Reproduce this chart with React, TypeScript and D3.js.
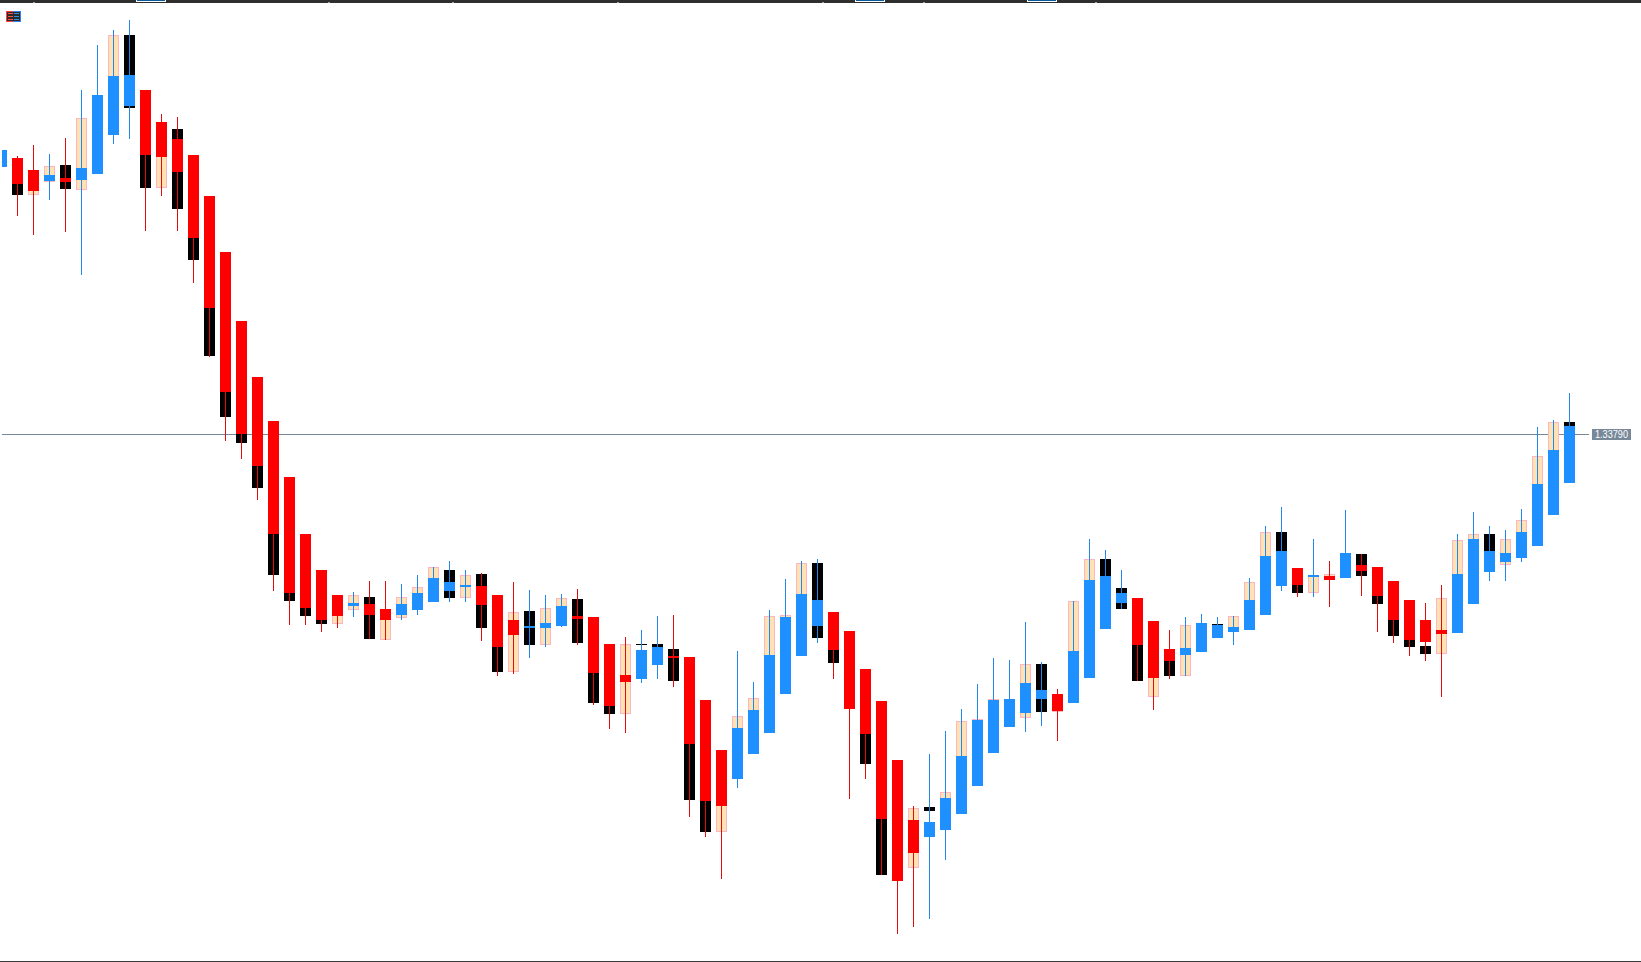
import React from "react";
import { scaleLinear, format } from "d3";

// prices are kept in points, 1 point = 0.00001
const opens = [
  135125, 135170, 135110, 135055, 135070, 135060, 135090, 135285, 135430, 135510,
  135350, 135265, 135185, 134980, 134700, 134355, 134075, 133855, 133575, 133290,
  133110, 132985, 132930, 132940, 132915, 132885, 132910, 132950, 133005, 133025,
  133030, 132985, 132860, 132820, 132820, 132830, 132880, 132875, 132740, 132585,
  132565, 132635, 132680, 132675, 132460, 132210, 132065, 132190, 132295, 132490,
  132680, 132830, 132900, 132805, 132615, 132455, 132160, 131860, 131775, 131810,
  131890, 132030, 132195, 132325, 132395, 132465, 132490, 132445, 132570, 132815,
  132945, 132970, 132855, 132715, 132685, 132700, 132770, 132800, 132810, 132885,
  133030, 133120, 133075, 133080, 133070, 133135, 133125, 133055, 132960, 132860,
  132810, 132795, 132940, 133100, 133150, 133170, 133230, 133385, 133545,
];
const closes = [
  135210, 135040, 135005, 135085, 135050, 135120, 135485, 135580, 135585, 135185,
  135175, 135100, 134770, 134420, 134000, 133790, 133630, 133290, 132995, 132920,
  132860, 132880, 132945, 132885, 132860, 132940, 132995, 133070, 133050, 133035,
  132935, 132725, 132785, 132830, 132845, 132930, 132865, 132595, 132430, 132550,
  132710, 132725, 132670, 132240, 131955, 131930, 132320, 132410, 132685, 132875,
  132990, 132960, 132710, 132415, 132290, 131865, 131555, 131695, 131850, 131970,
  132180, 132360, 132460, 132465, 132545, 132510, 132405, 132705, 133060, 133080,
  132995, 132735, 132570, 132655, 132720, 132845, 132835, 132825, 132960, 133180,
  133205, 133035, 133085, 133060, 133195, 133105, 132980, 132860, 132760, 132750,
  132790, 133090, 133265, 133205, 133195, 133300, 133540, 133710, 133830,
];
const highs = [
  135210, 135180, 135235, 135190, 135270, 135510, 135735, 135810, 135860, 135510,
  135390, 135375, 135185, 134980, 134700, 134355, 134075, 133855, 133575, 133290,
  133110, 132985, 133000, 133055, 133055, 133040, 133085, 133125, 133155, 133110,
  133095, 132985, 133050, 133010, 132985, 132990, 133015, 132875, 132740, 132775,
  132810, 132880, 132885, 132675, 132460, 132210, 132705, 132550, 132910, 133065,
  133155, 133165, 132900, 132805, 132615, 132455, 132160, 131930, 132190, 132305,
  132415, 132540, 132670, 132660, 132850, 132650, 132515, 132955, 133265, 133210,
  133110, 132970, 132855, 132810, 132875, 132890, 132875, 132880, 133070, 133330,
  133425, 133120, 133265, 133155, 133410, 133190, 133125, 133055, 132960, 132945,
  133035, 133290, 133400, 133330, 133310, 133415, 133825, 133860, 133995,
];
const lows = [
  135125, 134880, 134785, 134960, 134800, 134585, 135090, 135240, 135265, 134805,
  134980, 134805, 134545, 134175, 133755, 133665, 133460, 133005, 132835, 132835,
  132800, 132820, 132875, 132765, 132760, 132860, 132885, 132950, 132950, 132950,
  132755, 132580, 132590, 132670, 132725, 132825, 132735, 132435, 132315, 132295,
  132545, 132565, 132525, 131875, 131775, 131565, 132020, 132190, 132295, 132490,
  132680, 132745, 132565, 131965, 132065, 131585, 131290, 131325, 131365, 131660,
  131890, 132030, 132195, 132325, 132300, 132330, 132255, 132445, 132570, 132815,
  132915, 132555, 132410, 132565, 132580, 132700, 132770, 132735, 132810, 132885,
  133005, 132975, 132975, 132925, 133070, 132980, 132800, 132745, 132680, 132655,
  132475, 132795, 132940, 133055, 133055, 133150, 133230, 133385, 133545,
];
// the wider bar behind each candle, null where there is none
const rangeHighs = [
  null, 135170, 135110, 135130, 135135, 135370, null, 135785, 135785, 135510,
  135350, 135315, 135185, 134980, 134700, 134355, 134075, 133855, 133575, 133290,
  133110, 132985, 132985, 132975, 132915, 132975, 133025, 133125, 133110, 133085,
  133090, 132985, 132900, 132905, 132920, 132970, 132965, 132875, 132740, 132740,
  132740, 132740, 132715, 132675, 132460, 132210, 132380, 132470, 132880, 132885,
  133145, 133145, 132900, null, 132615, 132455, null, 131920, 131925, 132000,
  132355, 132365, 132465, null, 132640, 132640, 132490, 132955, 133165, 133165,
  133020, 132970, 132855, 132715, 132835, null, 132840, 132880, 133050, 133300,
  133300, 133120, 133085, 133090, null, 133190, 133125, 133055, 132960, 132730,
  132970, 133260, 133290, 133290, 133265, 133360, 133680, 133850, 133850,
];
const rangeLows = [
  null, 134985, 134985, 135050, 135015, 135010, null, 135285, 135420, 135020,
  135020, 134915, 134660, 134180, 133875, 133745, 133520, 133085, 132955, 132880,
  132840, 132840, 132910, 132765, 132760, 132870, 132910, 132950, 132970, 132970,
  132820, 132600, 132600, 132735, 132735, 132830, 132745, 132445, 132390, 132390,
  132735, 132725, 132555, 131960, 131800, 131800, 132065, 132190, 132295, 132490,
  132680, 132770, 132645, null, 132140, 131585, null, 131620, 131905, 131810,
  131890, 132030, 132195, null, 132370, 132400, 132400, 132445, 132570, 132815,
  132915, 132555, 132475, 132580, 132580, null, 132835, 132800, 132810, 132885,
  133030, 132995, 132995, 133060, null, 133080, 132940, 132780, 132725, 132690,
  132690, 132795, 132940, 133100, 133135, 133170, 133230, 133385, 133545,
];
// k = black, t = tan, - = none
const rangeKinds = [
  "-kttkt-tkk",
  "tkkkkkkkkk",
  "kttkttttkt",
  "kktkttkkkt",
  "kkkkkttttt",
  "tkk-kk-tkt",
  "ttt-tktttk",
  "kktkt-kttt",
  "kktt-kkkkk",
  "tttkttttk",
].join("");

const lastPrice = 133790;
const tabs = [137, 856, 1028];
const topTicks = [33, 328, 452, 617, 822, 923, 1095];

const WIDTH = 1641;
const HEIGHT = 962;
const BODY = 11;

const COLORS = {
  up: "#1e90ff",
  down: "#ff0000",
  upWick: "#2188ee",
  downWick: "#e60b0b",
  tan: "#ffe2b4",
  tanEdge: "#ffb6c1",
  line: "#778899",
};

const x = scaleLinear().domain([0, 98]).range([1.5, 1569.5]);
const y = scaleLinear().domain([135960, 131150]).rangeRound([0, HEIGHT]);

export default function App() {
  const priceY = y(lastPrice);
  return (
    <svg
      width={WIDTH}
      height={HEIGHT}
      style={{ position: "fixed", left: 0, top: 0, background: "#fff" }}
      shapeRendering="crispEdges"
    >
      <defs>
        <clipPath id="plot">
          <rect x={2} y={3} width={WIDTH - 2} height={HEIGHT - 4} />
        </clipPath>
      </defs>

      {/* price line and its tag */}
      <line x1={2} x2={1589} y1={priceY + 0.5} y2={priceY + 0.5} stroke={COLORS.line} />
      <rect x={1592} y={429} width={39} height={11} fill={COLORS.line} />
      <text
        x={1595}
        y={438}
        fill="#fff"
        fontFamily="Liberation Sans, sans-serif"
        fontSize={10}
        textLength={33}
        lengthAdjust="spacingAndGlyphs"
      >
        {format(".5f")(lastPrice / 100000)}
      </text>

      <g clipPath="url(#plot)">
        {/* bars behind */}
        {opens.map((_, i) => {
          const hi = rangeHighs[i];
          const lo = rangeLows[i];
          if (hi === null || lo === null) return null;
          const cx = x(i);
          const top = y(hi);
          const h = y(lo) - top;
          return rangeKinds[i] === "k" ? (
            <rect key={i} x={cx - BODY / 2} y={top} width={BODY} height={h} fill="#000" />
          ) : (
            <rect
              key={i}
              x={cx - BODY / 2 + 0.5}
              y={top + 0.5}
              width={BODY - 1}
              height={Math.max(h - 1, 0)}
              fill={COLORS.tan}
              stroke={COLORS.tanEdge}
            />
          );
        })}
        {/* wicks */}
        {opens.map((o, i) => (
          <rect
            key={i}
            x={x(i) - 0.5}
            y={y(highs[i])}
            width={1}
            height={y(lows[i]) - y(highs[i])}
            fill={closes[i] >= o ? COLORS.upWick : COLORS.downWick}
          />
        ))}
        {/* candle bodies */}
        {opens.map((o, i) => {
          const c = closes[i];
          const top = y(Math.max(o, c));
          return (
            <rect
              key={i}
              x={x(i) - BODY / 2}
              y={top}
              width={BODY}
              height={y(Math.min(o, c)) - top}
              fill={c >= o ? COLORS.up : COLORS.down}
            />
          );
        })}
      </g>

      {/* little indicator icon */}
      <g>
        <rect x={6} y={11} width={15} height={11} fill="#2b2b2b" />
        <path d="M13 11.5H6.5V21.5H13" fill="none" stroke="#ff4040" />
        <path d="M13 11.5H20.5V21.5H13" fill="none" stroke="#2f80f0" />
        {[13, 16, 19].map((r) => (
          <g key={r}>
            <rect x={8} y={r} width={5} height={1} fill="#ff5040" />
            <rect x={14} y={r} width={5} height={1} fill="#3090f0" />
          </g>
        ))}
      </g>

      {/* window frame */}
      <rect x={0} y={0} width={WIDTH} height={3} fill="#2e2e2e" />
      {topTicks.map((t) => (
        <rect key={t} x={t} y={2} width={2} height={1} fill="#a0a0a0" />
      ))}
      {tabs.map((t) => (
        <g key={t}>
          <rect x={t - 1} y={0} width={30} height={2} fill="#fff" />
          <rect x={t} y={0} width={28} height={1} fill="#0a5a9e" />
        </g>
      ))}
      <rect x={0} y={961} width={WIDTH} height={1} fill="#3a3a3a" />
    </svg>
  );
}
